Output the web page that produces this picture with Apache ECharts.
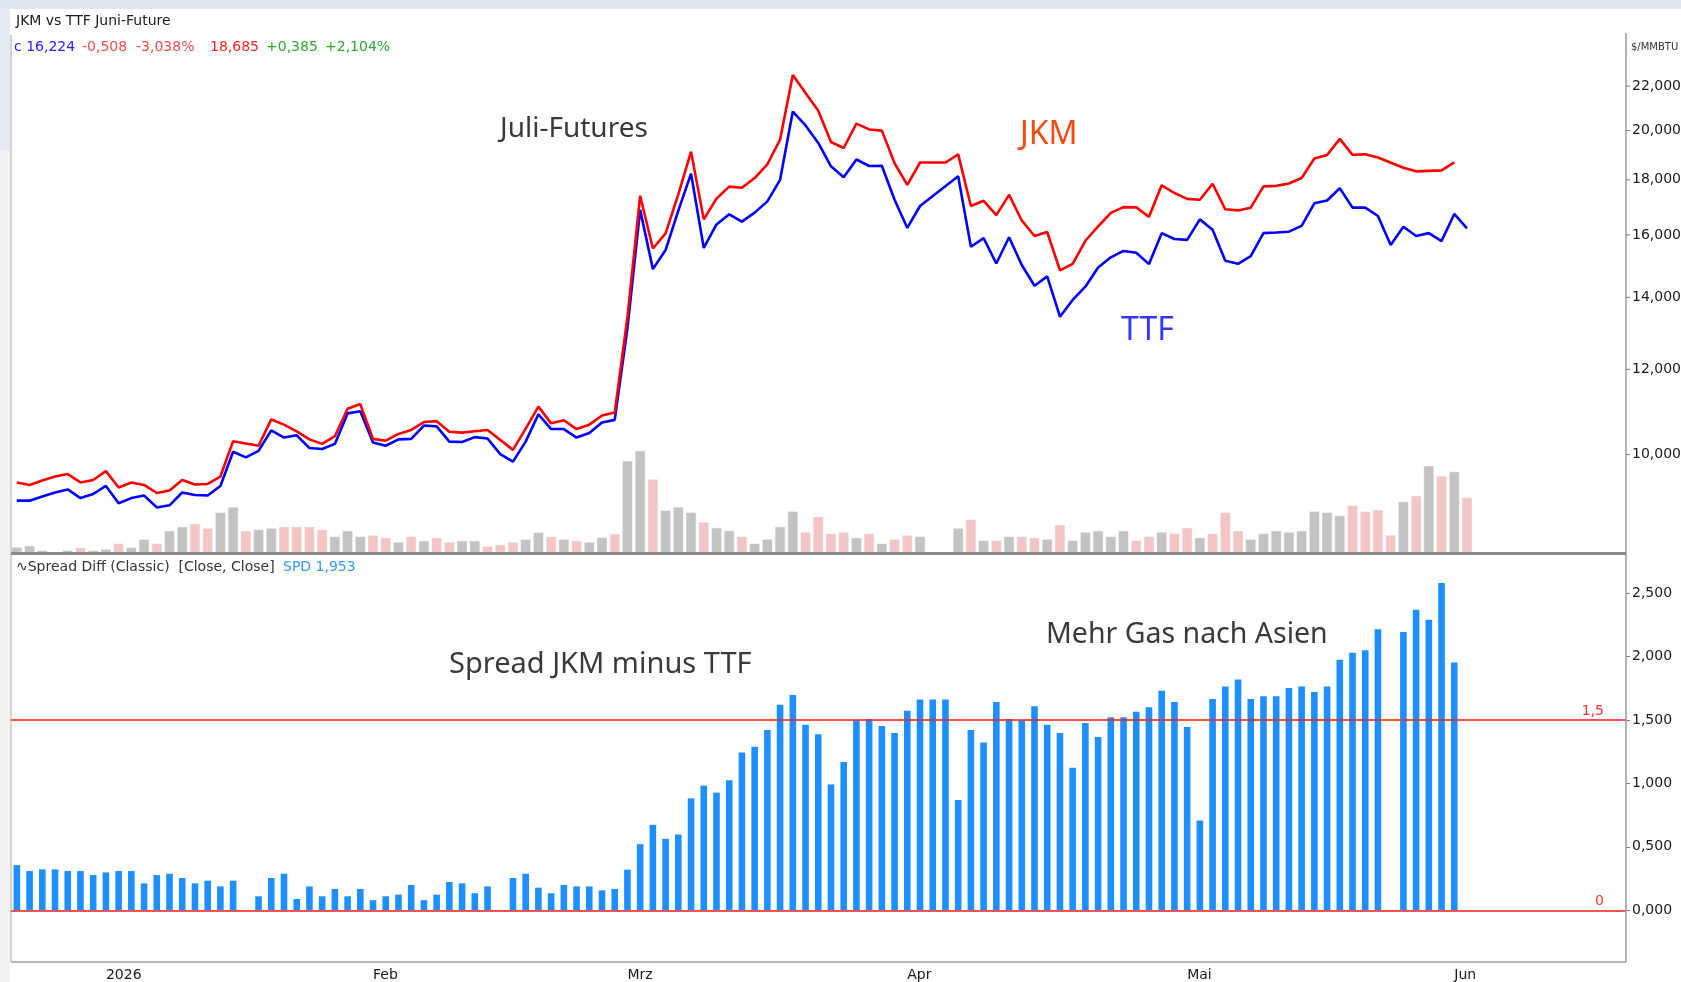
<!DOCTYPE html>
<html>
<head>
<meta charset="utf-8">
<title>JKM vs TTF Juni-Future</title>
<script src="https://cdn.jsdelivr.net/npm/echarts@6/dist/echarts.min.js"></script>
<style>
html, body { margin: 0; padding: 0; background: #fff; }
#chart { width: 1681px; height: 982px; }
</style>
</head>
<body>
<div id="chart"></div>
<script>
// TTF Juni-Future, Schlusskurse ($/MMBtu), ab 22.12.2025
var ttf = [9.06, 9.06, 9.14, 9.22, 9.28, 9.11, 9.19, 9.35, 9.01, 9.11,
  9.16, 8.93, 8.97, 9.22, 9.17, 9.16, 9.35, 10.06, 9.94, 10.08,
  10.53, 10.37, 10.42, 10.14, 10.12, 10.23, 10.92, 10.97, 10.26, 10.19,
  10.33, 10.34, 10.64, 10.62, 10.28, 10.27, 10.38, 10.35, 10.01, 9.85,
  10.28, 10.90, 10.56, 10.56, 10.37, 10.47, 10.71, 10.77, 13.10, 16.88,
  14.87, 15.49, 16.85, 18.24, 15.56, 16.36, 16.72, 16.46, 16.78, 17.19,
  18.00, 20.83, 20.22, 19.48, 18.53, 18.10, 18.80, 18.54, 18.55, 17.25,
  16.24, 17.02, null, null, 18.14, 15.60, 15.89, 15.05, 15.92, 15.00,
  14.35, 14.64, 13.43, 13.92, 14.32, 14.92, 15.25, 15.46, 15.40, 15.03,
  16.06, 15.86, 15.83, 16.54, 16.18, 15.14, 15.04, 15.29, 16.06, 16.08,
  16.11, 16.31, 17.12, 17.22, 17.68, 16.96, 16.96, 16.66, 15.66, 16.28,
  15.96, 16.06, 15.79, 16.732, 16.224];

// JKM Juli-Future
var jkm = [9.42, 9.37, 9.46, 9.54, 9.59, 9.42, 9.47, 9.65, 9.32, 9.42,
  9.37, 9.21, 9.26, 9.47, 9.38, 9.39, 9.54, 10.29, null, 10.19,
  10.78, 10.66, 10.51, 10.33, 10.23, 10.40, 11.03, 11.14, 10.34, 10.30,
  10.45, 10.54, 10.72, 10.74, 10.50, 10.48, 10.51, 10.54, null, 10.10,
  10.57, 11.08, 10.69, 10.76, 10.56, 10.66, 10.87, 10.94, 13.42, 17.40,
  15.54, 16.05, 17.45, 19.12, 16.54, 17.29, 17.74, 17.70, 18.07, 18.61,
  19.62, 22.53, 21.68, 20.87, 19.52, 19.27, 20.30, 20.05, 20.00, 18.65,
  17.81, 18.68, 18.68, 18.68, 19.01, 17.02, 17.21, 16.69, 17.43, 16.50,
  15.96, 16.10, 14.83, 15.04, 15.80, 16.29, 16.77, 16.98, 16.97, 16.63,
  17.79, 17.50, 17.28, 17.25, 17.85, 16.90, 16.86, 16.96, 17.75, 17.77,
  17.86, 18.07, 18.84, 18.98, 19.65, 18.99, 19.01, 18.88, null, 18.47,
  18.33, 18.35, 18.37, 18.685];

// Spread JKM minus TTF
var spread = [0.356, 0.309, 0.322, 0.322, 0.309, 0.309, 0.277, 0.298, 0.309, 0.309,
  0.212, 0.277, 0.288, 0.254, 0.212, 0.233, 0.188, 0.233, null, 0.110,
  0.254, 0.288, 0.089, 0.188, 0.110, 0.168, 0.110, 0.168, 0.079, 0.110,
  0.123, 0.199, 0.079, 0.123, 0.223, 0.212, 0.134, 0.188, null, 0.254,
  0.288, 0.178, 0.134, 0.199, 0.188, 0.188, 0.157, 0.168, 0.320, 0.521,
  0.673, 0.563, 0.597, 0.882, 0.982, 0.927, 1.024, 1.243, 1.288, 1.421,
  1.620, 1.696, 1.463, 1.387, 0.992, 1.168, 1.497, 1.508, 1.453, 1.398,
  1.573, 1.662, 1.662, 1.662, 0.869, 1.421, 1.322, 1.641, 1.508, 1.497,
  1.607, 1.463, 1.398, 1.124, 1.476, 1.366, 1.521, 1.521, 1.565, 1.600,
  1.730, 1.641, 1.445, 0.707, 1.665, 1.764, 1.819, 1.665, 1.686, 1.686,
  1.751, 1.764, 1.720, 1.764, 1.974, 2.029, 2.050, 2.215, null, 2.194,
  2.369, 2.290, 2.579, 1.953];

// Volumen (Tsd. Kontrakte, geschaetzt)
var volume = [5.6, 6.8, 2.5, null, 2.5, 5.3, 2.5, 3.7, 9.0, 5.3,
  13.0, 9.0, 20.8, 24.6, 27.4, 23.3, 38.0, 43.0, 20.8, 22.0,
  23.3, 24.6, 24.6, 24.6, 22.0, 15.5, 20.8, 15.5, 16.8, 14.3,
  10.3, 15.5, 11.5, 14.3, 10.3, 11.5, 11.5, 6.5, 7.8, 10.3,
  13.0, 19.3, 15.5, 13.0, 11.5, 10.3, 14.6, 18.0, 86.0, 95.5,
  69.0, 40.0, 43.0, 38.0, 29.0, 23.6, 21.0, 15.5, 9.0, 13.0,
  24.6, 39.0, 19.6, 34.0, 18.3, 19.6, 14.3, 18.3, 9.0, 13.0,
  16.8, 15.5, null, null, 23.3, 31.4, 11.8, 11.8, 15.5, 15.5,
  14.3, 13.0, 26.4, 11.8, 19.6, 20.8, 15.5, 20.8, 11.8, 15.5,
  19.6, 18.3, 23.6, 14.3, 18.3, 38.0, 20.8, 13.0, 18.3, 20.8,
  19.6, 20.8, 39.0, 38.0, 35.0, 44.5, 39.0, 40.4, 16.8, 48.0,
  53.5, 81.5, 72.0, 76.0, 52.0];
// u = Tag mit steigendem Kurs (grau), d = fallend (rosa)
var volumeSide = ('uuuuuduudu' + 'uduudduudu' + 'udddduuudd' + 'ududduuddd' +
  'uududuuduu' + 'duuuduuduu' + 'uuddddudud' + 'duuuududud' + 'duduuuuudd' +
  'udduddduuu' + 'uuuuuddddu' + 'dudud').split('');

var priceTicks = [10, 12, 14, 16, 18, 20, 22];
var spreadTicks = [0, 0.5, 1, 1.5, 2, 2.5];
var monthNames = ['2026', 'Feb', 'Mrz', 'Apr', 'Mai', 'Jun', 'Jul', 'Aug', 'Sep', 'Okt', 'Nov', 'Dez'];

// Handelstage (Wochentage ohne 25.12. und 1.1.)
var holidays = ['2025-12-25', '2026-01-01'];
var days = [];
var d = new Date(Date.UTC(2025, 11, 22));
while (days.length < 127) {
  var wd = d.getUTCDay();
  var s = d.toISOString().slice(0, 10);
  if (wd !== 0 && wd !== 6 && holidays.indexOf(s) < 0) days.push(s);
  d.setUTCDate(d.getUTCDate() + 1);
}
function isMonthStart(i) {
  return i > 0 && days[i].slice(5, 7) !== days[i - 1].slice(5, 7);
}
function fmt3(v) { return v.toFixed(3).replace('.', ','); }

var UI = '"DejaVu Sans", Verdana, sans-serif';
var NOTE = '"Noto Sans", "Open Sans", sans-serif';

var volData = volume.map(function (v, i) {
  if (v == null) return null;
  return { value: v, itemStyle: { color: volumeSide[i] === 'u' ? '#c3c3c3' : '#f3c6c6' } };
});

var option = {
  animation: false,
  backgroundColor: '#fff',
  grid: [
    { left: 10.5, top: 35, width: 1615.5, height: 518 },
    { left: 10.5, top: 555, width: 1615.5, height: 407 }
  ],
  xAxis: [
    { type: 'category', gridIndex: 0, data: days, show: false },
    {
      type: 'category', gridIndex: 1, data: days, offset: 3,
      axisLine: { show: false },
      axisTick: {
        alignWithLabel: true, length: 3, lineStyle: { color: '#777' },
        interval: function (i) { return isMonthStart(i); }
      },
      axisLabel: {
        interval: function (i) { return isMonthStart(i); },
        formatter: function (v) { return monthNames[parseInt(v.slice(5, 7), 10) - 1]; },
        align: 'left', margin: 4, fontFamily: UI, fontSize: 14, color: '#1a1a1a'
      },
      splitLine: { show: false }
    }
  ],
  yAxis: [
    {
      type: 'log', logBase: 10, gridIndex: 0, position: 'right', min: 8.1, max: 24.54,
      axisLine: { show: false }, axisTick: { show: false }, axisLabel: { show: false },
      splitLine: { show: false }
    },
    { type: 'value', gridIndex: 0, min: 0, max: 483.2, show: false },
    {
      type: 'value', gridIndex: 1, position: 'right', min: -0.4, max: 2.8,
      axisLine: { show: false },
      axisTick: { show: true, length: 4, lineStyle: { color: '#777' }, customValues: spreadTicks },
      axisLabel: {
        customValues: spreadTicks, formatter: fmt3, margin: 6,
        fontFamily: UI, fontSize: 14, color: '#1a1a1a'
      },
      splitLine: { show: false }
    }
  ],
  series: [
    {
      name: 'Volumen', type: 'bar', xAxisIndex: 0, yAxisIndex: 1,
      data: volData, barWidth: 10.6, silent: true, z: 1,
      itemStyle: { borderColor: '#fff', borderWidth: 0.5 }
    },
    {
      name: 'TTF', type: 'line', xAxisIndex: 0, yAxisIndex: 0, data: ttf,
      showSymbol: false, connectNulls: true, z: 3,
      lineStyle: { color: '#0000ff', width: 2.6 }, itemStyle: { color: '#0000ff' }
    },
    {
      name: 'JKM', type: 'line', xAxisIndex: 0, yAxisIndex: 0, data: jkm,
      showSymbol: false, connectNulls: true, z: 4,
      lineStyle: { color: '#ff0000', width: 2.6 }, itemStyle: { color: '#ff0000' }
    },
    {
      name: 'SPD', type: 'bar', xAxisIndex: 1, yAxisIndex: 2, data: spread,
      barWidth: 6.6, itemStyle: { color: '#1e8fff' },
      markLine: {
        silent: true, symbol: 'none',
        lineStyle: { color: '#ff1a1a', width: 1.5, type: 'solid' },
        label: {
          position: 'insideEndTop', distance: [22, 2],
          fontFamily: UI, fontSize: 14, color: '#ff3030'
        },
        data: [
          { yAxis: 1.5, label: { formatter: '1,5' } },
          { yAxis: 0, label: { formatter: '0' } }
        ]
      }
    }
  ]
};

var chart = echarts.init(document.getElementById('chart'));
chart.setOption(option);

function txt(x, y, text, font, fill) {
  return { type: 'text', x: x, y: y, z: 10,
    style: { text: text, font: font, fill: fill, verticalAlign: 'middle' } };
}
function line(x1, y1, x2, y2, color, w) {
  return { type: 'line', z: 9, shape: { x1: x1, y1: y1, x2: x2, y2: y2 },
    style: { stroke: color, lineWidth: w } };
}

var graphics = [
  { type: 'rect', z: 0, shape: { x: 0, y: 0, width: 1681, height: 9 }, style: { fill: '#dfe6ed' } },
  { type: 'rect', z: 0, shape: { x: 0, y: 9, width: 10, height: 141 }, style: { fill: '#e3eaf1' } },
  { type: 'rect', z: 0, shape: { x: 0, y: 150, width: 10, height: 832 }, style: { fill: '#f2f2f2' } },
  line(11, 35, 11, 962, '#a8a8a8', 1),
  line(1626, 33, 1626, 962, '#9a9a9a', 1.5),
  line(11, 962, 1626, 962, '#a0a0a0', 1.5),
  { type: 'rect', z: 9, shape: { x: 11, y: 552, width: 1615, height: 3 }, style: { fill: '#8a8a8a' } },

  txt(16, 21, 'JKM vs TTF Juni-Future', '14px ' + UI, '#1a1a1a'),
  txt(14, 47, 'c 16,224', '14px ' + UI, '#2424ff'),
  txt(82, 47, '-0,508', '14px ' + UI, '#f24b4b'),
  txt(136, 47, '-3,038%', '14px ' + UI, '#f24b4b'),
  txt(210, 47, '18,685', '14px ' + UI, '#ff2020'),
  txt(266, 47, '+0,385', '14px ' + UI, '#2ea82e'),
  txt(325, 47, '+2,104%', '14px ' + UI, '#2ea82e'),
  txt(1631, 47, '$/MMBTU', '10px ' + UI, '#333'),

  txt(16, 567, '\u223FSpread Diff (Classic)  [Close, Close]', '14px ' + UI, '#333'),
  txt(283, 567, 'SPD 1,953', '14px ' + UI, '#3399ff'),

  txt(500, 129, 'Juli-Futures', '28px ' + NOTE, '#3a3a3a'),
  txt(1020, 135, 'JKM', '32px ' + NOTE, '#f44a14'),
  txt(1121, 331, 'TTF', '32px ' + NOTE, '#3535ff'),
  txt(449, 665, 'Spread JKM minus TTF', '29px ' + NOTE, '#3a3a3a'),
  txt(1046, 635, 'Mehr Gas nach Asien', '28.5px ' + NOTE, '#3a3a3a')
];

// Beschriftung der logarithmischen Kursachse ueber die Skala der Achse
priceTicks.forEach(function (v) {
  var y = chart.convertToPixel({ yAxisIndex: 0 }, v);
  graphics.push(line(1626, y, 1630, y, '#777', 1));
  graphics.push(txt(1632, y, fmt3(v), '14px ' + UI, '#1a1a1a'));
});

chart.setOption({ graphic: graphics });
</script>
</body>
</html>
